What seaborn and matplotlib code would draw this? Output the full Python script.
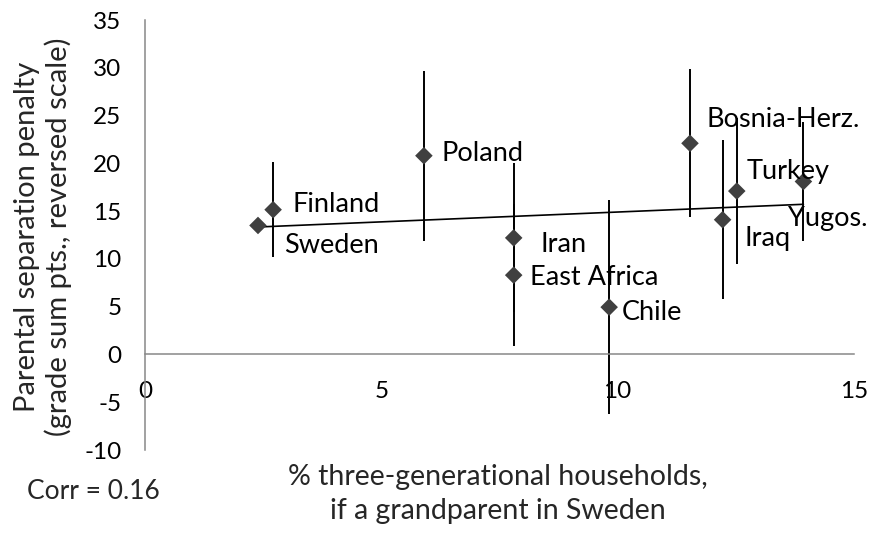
import numpy as np
import pandas as pd
import seaborn as sns
from matplotlib import pyplot as plt

sns.set_style('white')
plt.rcParams['font.family'] = ['Lato', 'DejaVu Sans']
plt.rcParams['axes.unicode_minus'] = False

# values
countries = ["Sweden", "Finland", "Poland", "Iran", "East Africa", "Chile",
             "Bosnia-Herz.", "Iraq", "Turkey", "Yugos."]
three_gen = [2.39, 2.71, 5.90, 7.80, 7.80, 9.82, 11.53, 12.22, 12.52, 13.93]
penalty = [13.5, 15.15, 20.8, 12.2, 8.3, 4.95, 22.1, 14.1, 17.1, 18.1]
half_ci = [0, 4.95, 8.9, 7.8, 7.45, 11.2, 7.75, 8.3, 7.6, 6.25]

# label offsets (points), relative to each marker, text baseline
label_dx = [19, 14, 13, 19, 12, 9, 12, 16, 7, -11]
label_dy = [-20, -2, -4, -10, -7, -9, 12, -19, 9, -32]

df = pd.DataFrame({'country': countries, 'x': three_gen, 'y': penalty,
                   'err': half_ci})
gray = '#888888'

fig = plt.figure(figsize=(8.7, 5.34), dpi=100)
ax = fig.add_axes([0.1667, 0.1573, 0.8149, 0.8052])

ax.errorbar(df['x'], df['y'], yerr=df['err'], fmt='none', ecolor='black',
            elinewidth=1.4, capsize=0, zorder=2)
sns.regplot(data=df, x='x', y='y', ax=ax, scatter=False, ci=None,
            truncate=True, line_kws={'color': 'black', 'lw': 1.2, 'zorder': 3})
sns.scatterplot(data=df, x='x', y='y', ax=ax, marker='D', s=80,
                color='#404040', edgecolor='none', zorder=4)

for name, px, py, dx, dy in zip(countries, three_gen, penalty,
                                label_dx, label_dy):
    ax.annotate(name, (px, py), xytext=(dx, dy), textcoords='offset points',
                ha='left', va='baseline', fontsize=19.5, color='black',
                zorder=5)

ax.set_xlim(0, 15)
ax.set_ylim(-10, 35)
ax.set_xticks([0, 5, 10, 15])
ax.set_yticks(np.arange(-10, 36, 5))

for side in ['top', 'right']:
    ax.spines[side].set_visible(False)
ax.spines['bottom'].set_position(('data', 0))
for side in ['left', 'bottom']:
    ax.spines[side].set_color(gray)
    ax.spines[side].set_linewidth(1.1)

ax.tick_params(axis='both', colors=gray, labelcolor='black', labelsize=17.5,
               length=6, width=1.1, direction='out')
ax.tick_params(axis='x', pad=13)
ax.tick_params(axis='y', pad=11)

ax.set_xlabel('% three-generational households,\nif a grandparent in Sweden',
              fontsize=20.5, linespacing=1.35)
ax.xaxis.set_label_coords(0.498, -0.102)
ax.xaxis.label.set_va('center')
ax.set_ylabel('Parental separation penalty\n(grade sum pts., reversed scale)',
              fontsize=21, linespacing=1.2)
ax.yaxis.set_label_coords(-0.144, 0.495)
ax.yaxis.label.set_va('center')

fig.text(0.031, 0.0787, 'Corr = 0.16', fontsize=19, ha='left',
         va='center')

plt.savefig('out.png', dpi=100)
plt.close()
